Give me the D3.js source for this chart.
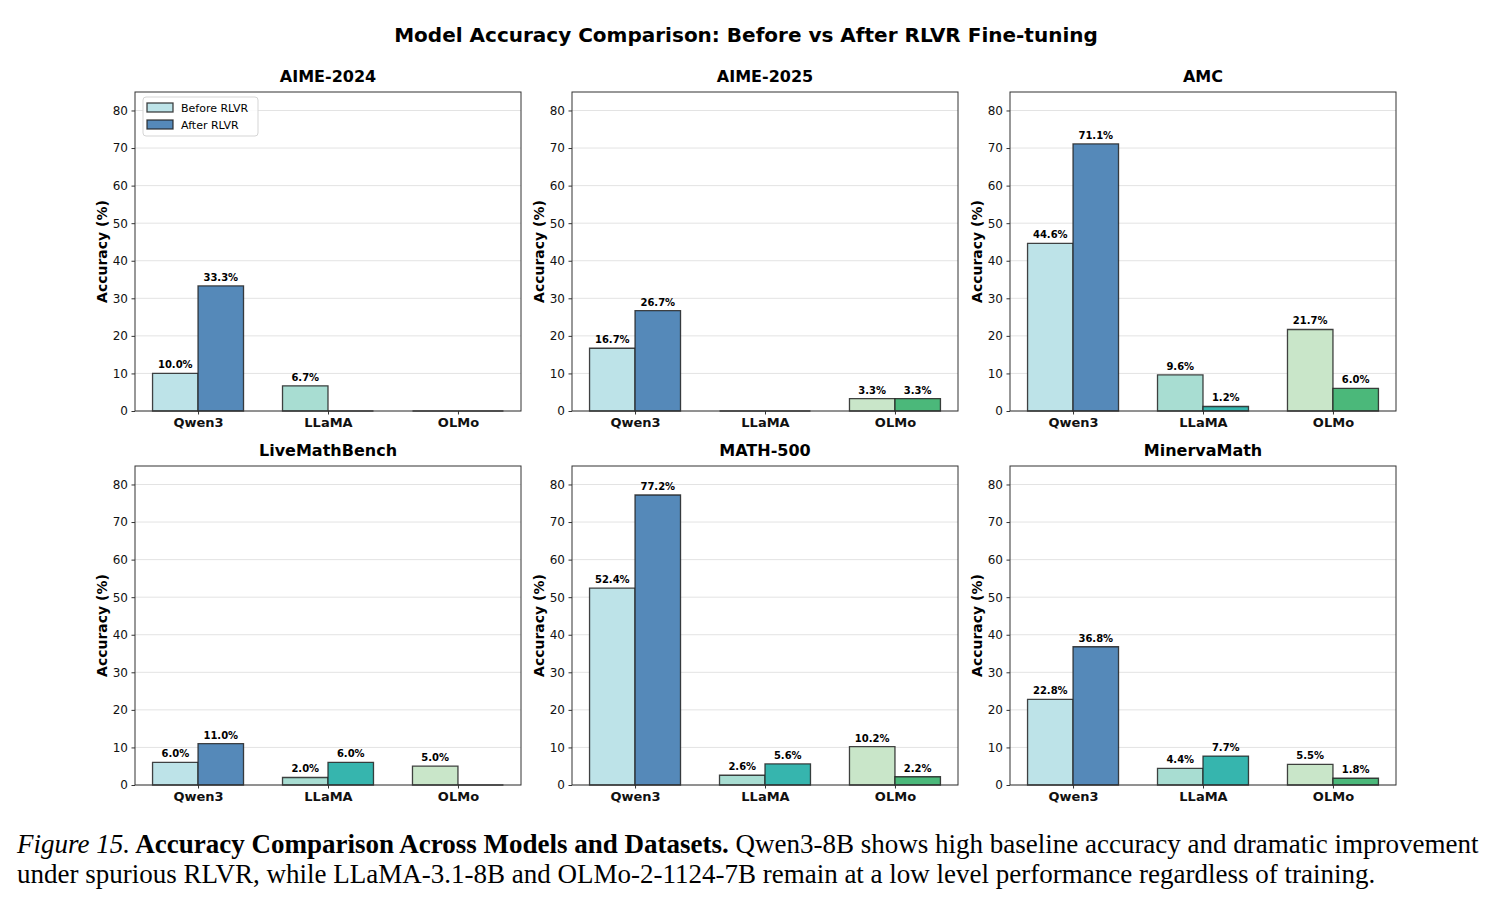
<!DOCTYPE html>
<html>
<head>
<meta charset="utf-8">
<script src="https://cdn.jsdelivr.net/npm/d3@7"></script>
<style>
  body { margin: 0; background: #fff; }
  svg { display: block; }
</style>
</head>
<body>
<svg id="chart" width="1491" height="905"></svg>
<script>
let width = 1491, height = 905;

let datasets = ['AIME-2024', 'AIME-2025', 'AMC', 'LiveMathBench', 'MATH-500', 'MinervaMath'];
let models = ['Qwen3', 'LLaMA', 'OLMo'];
let beforeVals = [
    [10.0, 6.7, 0],
    [16.7, 0, 3.3],
    [44.6, 9.6, 21.7],
    [6.0, 2.0, 5.0],
    [52.4, 2.6, 10.2],
    [22.8, 4.4, 5.5]
];
let afterVals = [
    [33.3, 0, 0],
    [26.7, 0, 3.3],
    [71.1, 1.2, 6.0],
    [11.0, 6.0, 0],
    [77.2, 5.6, 2.2],
    [36.8, 7.7, 1.8]
];
let yTicks = [0, 10, 20, 30, 40, 50, 60, 70, 80];
let legendLabels = ['Before RLVR', 'After RLVR'];

let beforeColors = ['#bde3e8', '#a8ddd2', '#c9e6c9'];
let afterColors = ['#5589b9', '#36b5ae', '#4bb87a'];

let font = 'DejaVu Sans, sans-serif';
let svg = d3.select('#chart');

// shared y max, like matplotlib max*1.1
let yMax = 77.2 * 1.1;
let colX = [135, 572, 1010], rowY = [92, 466];
let pw = 386, ph = 319;
let barW = 0.35;

svg.append('text')
    .attr('x', 746).attr('y', 42)
    .attr('text-anchor', 'middle')
    .style('font-family', font).style('font-weight', 'bold').style('font-size', '20px')
    .text('Model Accuracy Comparison: Before vs After RLVR Fine-tuning');

function barPath(x0, y0, w, y1) {
    return 'M' + x0 + ',' + y0 + 'H' + (x0 + w) + 'V' + y1 + 'H' + x0 + 'Z';
}

datasets.forEach(function(name, i) {
    let ox = colX[i % 3], oy = rowY[Math.floor(i / 3)];
    let g = svg.append('g').attr('transform', 'translate(' + ox + ',' + oy + ')');

    let x = d3.scaleLinear().domain([-barW - 0.135, 2 + barW + 0.135]).range([0, pw]);
    let y = d3.scaleLinear().domain([0, yMax]).range([ph, 0]);

    // grid
    g.selectAll('.grid').data(yTicks).join('line')
        .attr('x1', 0).attr('x2', pw)
        .attr('y1', function(d) { return y(d); }).attr('y2', function(d) { return y(d); })
        .attr('stroke', '#e3e3e3').attr('stroke-width', 1);

    let bars = [];
    models.forEach(function(m, j) {
        bars.push({ x: j - barW, v: beforeVals[i][j], c: beforeColors[j] });
        bars.push({ x: j, v: afterVals[i][j], c: afterColors[j] });
    });

    g.selectAll('.bar').data(bars).join('path')
        .attr('d', function(d) {
            return barPath(x(d.x), y(0), x(d.x + barW) - x(d.x), y(d.v));
        })
        .attr('fill', function(d) { return d.c; })
        .attr('stroke', '#222').attr('stroke-opacity', 0.85).attr('stroke-width', 1.3);

    g.selectAll('.lbl').data(bars.filter(function(d) { return d.v > 0; })).join('text')
        .attr('x', function(d) { return x(d.x + barW / 2); })
        .attr('y', function(d) { return y(d.v) - 5; })
        .attr('text-anchor', 'middle')
        .style('font-family', font).style('font-weight', 'bold').style('font-size', '10px')
        .text(function(d) { return d.v.toFixed(1) + '%'; });

    // axes
    let yAxis = g.append('g').call(d3.axisLeft(y).tickValues(yTicks).tickSize(3.5).tickPadding(3.5));
    yAxis.select('.domain').remove();
    yAxis.selectAll('text').style('font-family', font).style('font-size', '12px').attr('fill', '#111');
    yAxis.selectAll('line').attr('stroke', '#333');

    let xAxis = g.append('g').attr('transform', 'translate(0,' + ph + ')')
        .call(d3.axisBottom(x).tickValues([0, 1, 2]).tickFormat(function(d) { return models[d]; }).tickSize(3.5).tickPadding(3.5));
    xAxis.select('.domain').remove();
    xAxis.selectAll('text').style('font-family', font).style('font-size', '13px').style('font-weight', 'bold').attr('fill', '#111');
    xAxis.selectAll('line').attr('stroke', '#333');

    g.append('rect').attr('x', 0).attr('y', 0).attr('width', pw).attr('height', ph)
        .attr('fill', 'none').attr('stroke', '#333').attr('stroke-width', 1);

    g.append('text')
        .attr('x', pw / 2).attr('y', -10)
        .attr('text-anchor', 'middle')
        .style('font-family', font).style('font-weight', 'bold').style('font-size', '16px')
        .text(name);

    g.append('text')
        .attr('transform', 'translate(-28,' + (ph / 2) + ') rotate(-90)')
        .attr('text-anchor', 'middle')
        .style('font-family', font).style('font-weight', 'bold').style('font-size', '14px')
        .text('Accuracy (%)');

    if (i === 0) {
        let lg = g.append('g').attr('transform', 'translate(8,5)');
        lg.append('rect').attr('x', 0).attr('y', 0).attr('width', 115).attr('height', 39)
            .attr('rx', 3).attr('fill', '#fff').attr('fill-opacity', 0.85)
            .attr('stroke', '#d5d5d5');
        legendLabels.forEach(function(l, k) {
            lg.append('rect').attr('x', 4).attr('y', 6 + k * 17).attr('width', 26).attr('height', 9)
                .attr('fill', k === 0 ? beforeColors[0] : afterColors[0])
                .attr('stroke', '#222').attr('stroke-opacity', 0.85).attr('stroke-width', 1.3);
            lg.append('text').attr('x', 38).attr('y', 15 + k * 17)
                .style('font-family', font).style('font-size', '11px')
                .text(l);
        });
    }
});

// caption
let capFont = 'Liberation Serif, Times New Roman, serif';
let cap = svg.append('text')
    .attr('x', 17).attr('y', 853)
    .style('font-family', capFont).style('font-size', '27px');
cap.append('tspan').style('font-style', 'italic').text('Figure 15.');
cap.append('tspan').style('font-weight', 'bold').text(' Accuracy Comparison Across Models and Datasets.');
cap.append('tspan').text(' Qwen3-8B shows high baseline accuracy and dramatic improvement');

svg.append('text')
    .attr('x', 17).attr('y', 883)
    .style('font-family', capFont).style('font-size', '27px')
    .text('under spurious RLVR, while LLaMA-3.1-8B and OLMo-2-1124-7B remain at a low level performance regardless of training.');
</script>
</body>
</html>
